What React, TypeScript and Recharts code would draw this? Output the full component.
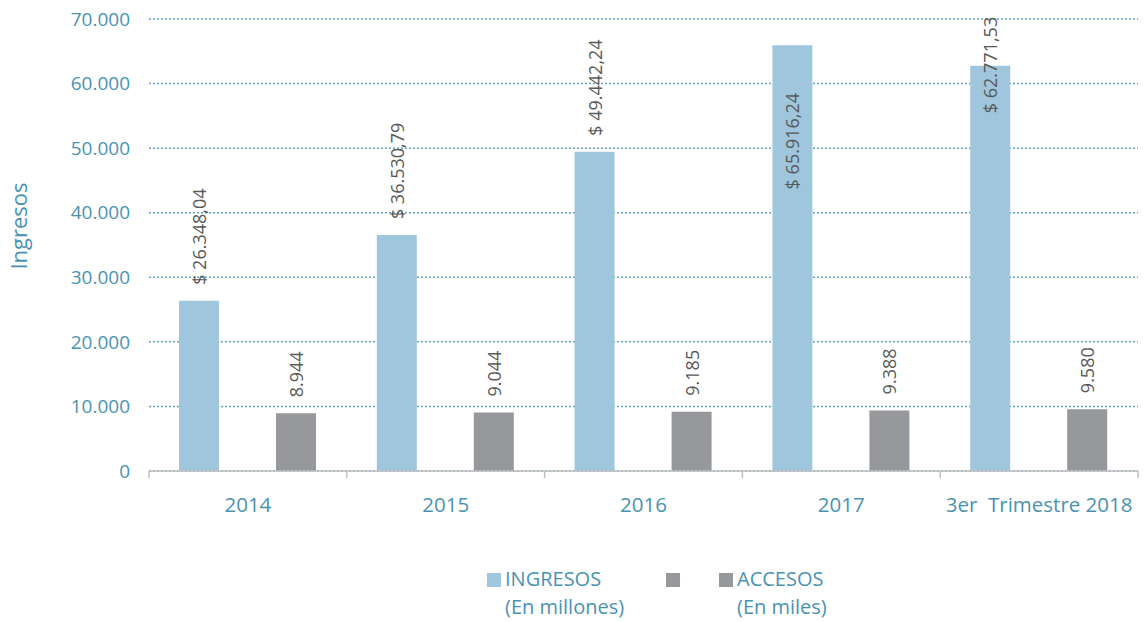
import { BarChart, Bar, XAxis, YAxis, CartesianGrid, LabelList } from 'recharts';

const CATEGORIES = ['2014', '2015', '2016', '2017', '3er  Trimestre 2018'];
const INGRESOS = [26348.04, 36530.79, 49442.24, 65916.24, 62771.53];
const ACCESOS = [8944, 9044, 9185, 9388, 9580];
const Y_TICKS = [0, 10000, 20000, 30000, 40000, 50000, 60000, 70000];

const data = CATEGORIES.map((name, i) => ({ name, ingresos: INGRESOS[i], accesos: ACCESOS[i] }));

const W = 1145;
const H = 622;
const MARGIN = { top: 19, right: 7, left: 0, bottom: 121 };
const Y_WIDTH = 149;
const BAND = (W - MARGIN.right - Y_WIDTH) / CATEGORIES.length;

const TEAL = '#4A93B0';
const BLUE = '#9FC6DD';
const GRAY = '#97989B';
const FONT = '"Open Sans", sans-serif';

function thousands(n: number): string {
  return Math.trunc(n).toString().replace(/\B(?=(\d{3})+(?!\d))/g, '.');
}

function money(n: number): string {
  const cents = Math.round((n - Math.trunc(n)) * 100).toString().padStart(2, '0');
  return `$ ${thousands(n)},${cents}`;
}

function XTick({ x, y, payload }: any) {
  const half = BAND / 2;
  const last = payload.value === CATEGORIES[CATEGORIES.length - 1];
  return (
    <g>
      <line x1={x - half} x2={x - half} y1={y} y2={y + 7} stroke="#BFBFBF" strokeWidth={1.5} />
      {last && <line x1={x + half} x2={x + half} y1={y} y2={y + 7} stroke="#BFBFBF" strokeWidth={1.5} />}
      <text
        x={x}
        y={y + 33}
        textAnchor="middle"
        dominantBaseline="central"
        fill={TEAL}
        fontSize={20.5}
        fontFamily={FONT}
        style={{ whiteSpace: 'pre' }}
      >
        {payload.value}
      </text>
    </g>
  );
}

// rotated value label: above the bar, pushed inside/clamped when it runs out of room
function makeLabel(fmt: (v: number) => string) {
  return (props: any) => {
    const { x, y, width, value } = props;
    const text = fmt(value);
    const cx = x + width / 2;
    const len = text.length * 9.2;
    let start = y - 16;
    if (start - len < 12) {
      start = y < 55 ? y + 144 : 12 + len;
    }
    return (
      <text
        x={cx}
        y={start}
        transform={`rotate(-90 ${cx} ${start})`}
        textAnchor="start"
        dominantBaseline="central"
        fill="#595959"
        fontSize={18}
        fontFamily={FONT}
      >
        {text}
      </text>
    );
  };
}

const legendText: React.CSSProperties = {
  position: 'absolute',
  color: TEAL,
  fontSize: 20,
  lineHeight: '28px',
  fontFamily: FONT,
  whiteSpace: 'nowrap',
};

export default function App() {
  return (
    <div style={{ position: 'absolute', left: 0, top: 0, width: W, height: H, background: '#fff' }}>
      <BarChart width={W} height={H} data={data} margin={MARGIN} barSize={40} barGap={57}>
        <CartesianGrid vertical={false} stroke="#5FA3BF" strokeDasharray="2 2" strokeWidth={1.5} />
        <XAxis
          dataKey="name"
          height={30}
          axisLine={{ stroke: '#BFBFBF', strokeWidth: 1.5 }}
          tickLine={false}
          tickSize={0}
          tickMargin={0}
          tick={<XTick />}
          interval={0}
        />
        <YAxis
          width={Y_WIDTH}
          domain={[0, 70000]}
          ticks={Y_TICKS}
          tickFormatter={thousands}
          axisLine={false}
          tickLine={false}
          tickSize={0}
          tickMargin={19}
          tick={{ fill: TEAL, fontSize: 19, fontFamily: FONT }}
          label={{
            content: () => (
              <text
                x={18}
                y={226}
                transform="rotate(-90 18 226)"
                textAnchor="middle"
                dominantBaseline="central"
                fill={TEAL}
                fontSize={22}
                fontFamily={FONT}
              >
                Ingresos
              </text>
            ),
          }}
        />
        <Bar dataKey="ingresos" fill={BLUE} isAnimationActive={false}>
          <LabelList dataKey="ingresos" content={makeLabel(money)} />
        </Bar>
        <Bar dataKey="accesos" fill={GRAY} isAnimationActive={false}>
          <LabelList dataKey="accesos" content={makeLabel(thousands)} />
        </Bar>
      </BarChart>

      <div style={{ position: 'absolute', left: 487, top: 573, width: 14, height: 14, background: BLUE }} />
      <div style={{ ...legendText, left: 505, top: 565 }}>
        INGRESOS
        <br />
        (En millones)
      </div>
      <div style={{ position: 'absolute', left: 666, top: 573, width: 14, height: 14, background: GRAY }} />
      <div style={{ position: 'absolute', left: 719, top: 573, width: 14, height: 14, background: GRAY }} />
      <div style={{ ...legendText, left: 737, top: 565 }}>
        ACCESOS
        <br />
        (En miles)
      </div>
    </div>
  );
}
